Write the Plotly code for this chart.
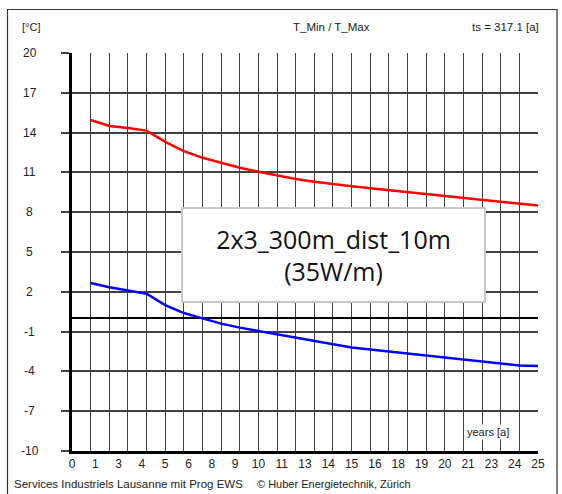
import plotly.graph_objects as go

years = list(range(1, 26))
t_max = [14.95, 14.5, 14.35, 14.15, 13.3, 12.6, 12.1, 11.7, 11.35, 11.05,
         10.75, 10.5, 10.3, 10.1, 9.95, 9.8, 9.65, 9.5, 9.35, 9.2,
         9.05, 8.9, 8.75, 8.6, 8.5]
t_min = [2.67, 2.35, 2.1, 1.85, 1.0, 0.4, 0.0, -0.4, -0.7, -0.95,
         -1.2, -1.45, -1.7, -1.95, -2.2, -2.35, -2.5, -2.7, -2.85, -3.0,
         -3.15, -3.3, -3.45, -3.55, -3.6]

x_tick_vals = [i * 1.25 for i in range(21)]
x_tick_labels = ["0", "1", "3", "4", "5", "6", "8", "9", "10", "11", "13", "14",
                 "15", "16", "18", "19", "20", "21", "23", "24", "25"]
y_tick_vals = [20, 17, 14, 11, 8, 5, 2, -1, -4, -7, -10]
y_tick_labels = ["20", "17", "14", "11", "8", "5", "2", "-1", "-4", "-7", "-10"]

W, H = 562, 494
L, R, T, B = 72, 24, 53, 43
pw, ph = W - L - R, H - T - B


def px(xp):
    return (xp - L) / pw


def py(yp):
    return (H - B - yp) / ph


FONT = "Liberation Sans"
fig = go.Figure()
fig.add_trace(go.Scatter(x=years, y=t_max, mode="lines",
                         line=dict(color="#ff0000", width=2.5), name="T_Max"))
fig.add_trace(go.Scatter(x=years, y=t_min, mode="lines",
                         line=dict(color="#0000ff", width=2.5), name="T_Min"))

grid_c = "#404040"
fig.update_xaxes(range=[0, 25], tickmode="array", tickvals=x_tick_vals,
                 ticktext=x_tick_labels, showgrid=False, zeroline=False,
                 showline=True, linecolor="black", linewidth=2.5,
                 ticks="", tickfont=dict(family=FONT, size=12, color="#222"),
                 minor=dict(tick0=0, dtick=1, showgrid=True, gridcolor=grid_c,
                            gridwidth=1.3, ticks=""))
fig.update_yaxes(range=[-10, 20], tickmode="array", tickvals=y_tick_vals,
                 showticklabels=False, showgrid=True, gridcolor=grid_c,
                 gridwidth=1.5, zeroline=True, zerolinecolor="black",
                 zerolinewidth=2.2, showline=True, linecolor="black",
                 linewidth=2.5, ticks="outside", ticklen=8, tickcolor=grid_c,
                 tickwidth=1.5)

ann = []
for v, t in zip(y_tick_vals, y_tick_labels):
    ann.append(dict(x=px(29.5), xref="paper", y=v, yref="y", text=t,
                    showarrow=False, xanchor="center", yanchor="middle",
                    font=dict(family=FONT, size=12, color="#222")))
ann += [
    dict(x=px(31), y=py(27), text="[°C]", xanchor="center"),
    dict(x=px(331), y=py(27), text="T_Min / T_Max", xanchor="center", size=11.5),
    dict(x=px(505), y=py(27), text="ts = 317.1 [a]", xanchor="center", size=11.5),
    dict(x=px(12), y=py(484), text="Services Industriels Lausanne mit Prog EWS",
         xanchor="left", size=11.5),
    dict(x=px(255), y=py(484), text="© Huber Energietechnik, Zürich",
         xanchor="left", size=11),
    dict(x=px(488), y=py(432), text="years [a]", xanchor="center",
         bgcolor="white"),
]
final = []
for a in ann:
    if "xref" in a:
        final.append(a)
        continue
    size = a.pop("size", 11)
    d = dict(xref="paper", yref="paper", showarrow=False, yanchor="middle",
             font=dict(family=FONT, size=size, color="#222"))
    d.update(a)
    final.append(d)

final.append(dict(x=px(333.5), y=py(255), xref="paper", yref="paper",
                  text="2x3_300m_dist_10m<br>(35W/m)", showarrow=False,
                  xanchor="center", yanchor="middle", width=299, height=90,
                  bgcolor="white", bordercolor="#c8c8c8", borderwidth=2,
                  font=dict(family="Open Sans", size=25, color="#111")))

fig.update_layout(
    width=W, height=H, margin=dict(l=L, r=R, t=T, b=B, pad=0),
    paper_bgcolor="white", plot_bgcolor="white", showlegend=False,
    annotations=final,
    shapes=[dict(type="rect", xref="paper", yref="paper",
                 x0=px(7.5), x1=px(557), y0=py(520), y1=py(9.5),
                 line=dict(color="#333", width=1.2), layer="below")],
)
fig.write_html("out.html", config={"displayModeBar": False},
               post_script="document.body.style.margin='0px';"
                           "document.body.style.padding='0px';")
